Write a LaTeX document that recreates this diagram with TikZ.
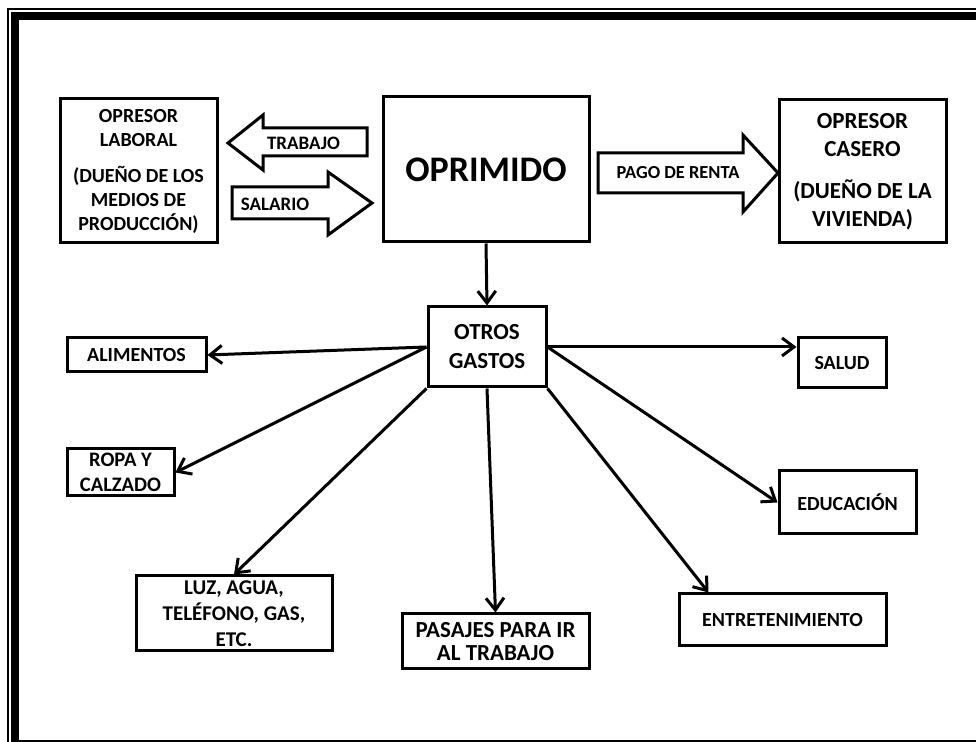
\documentclass[tikz,border=0pt]{standalone}
\usepackage{fontspec}
\setmainfont{Carlito}
\usetikzlibrary{arrows.meta}
\tikzset{
	block/.style    = {draw, line width=1.5pt, rectangle, align=center, inner sep=0pt,
		font=\bfseries\fontsize{10}{12}\selectfont},
	bigarrow/.style = {draw, line width=1.5pt, line join=miter},
	tag/.style      = {inner sep=0pt, font=\bfseries\fontsize{9.5}{11}\selectfont}
}

\begin{document}
\begin{tikzpicture}[x=0.5pt, y=-0.5pt, line width=1.5pt, >={Straight Barb[length=6pt,width=9pt]}]
	\useasboundingbox (0,0) rectangle (976,742);
	% frame
	\draw[line width=1pt] (8,742) -- (8,9) -- (976,9);
	\draw[line width=4pt] (15,742) -- (15,16) -- (976,16);
	\draw[line width=1pt] (11,741) -- (976,741);

	\draw
	node at (138.5,171) [block, minimum width=78.5pt, minimum height=72pt] (lab)
		{OPRESOR\\LABORAL\\[6pt](DUEÑO DE LOS\\MEDIOS DE\\PRODUCCIÓN)}
	node at (486,169.5) [block, minimum width=103pt, minimum height=72.5pt,
		font=\bfseries\fontsize{18}{20}\selectfont] (opr) {OPRIMIDO}
	node at (862.5,171.5) [block, minimum width=83.5pt, minimum height=71.5pt,
		font=\bfseries\fontsize{11.5}{14}\selectfont] (cas)
		{OPRESOR\\CASERO\\[7pt](DUEÑO DE LA\\VIVIENDA)}
	node at (487,347) [block, minimum width=59pt, minimum height=40pt,
		font=\bfseries\fontsize{11.5}{14.5}\selectfont] (otros) {OTROS\\GASTOS}
	node at (136.5,355) [block, minimum width=69.5pt, minimum height=17pt] (alim) {ALIMENTOS}
	node at (120.5,472.5) [block, minimum width=53.5pt, minimum height=23.5pt,
		font=\bfseries\fontsize{10.3}{12.5}\selectfont] (ropa) {ROPA Y\\CALZADO}
	node at (234,613.5) [block, minimum width=98pt, minimum height=37.5pt,
		font=\bfseries\fontsize{10.5}{13}\selectfont] (luz) {LUZ, AGUA,\\TELÉFONO, GAS,\\ETC.}
	node at (495.5,641.5) [block, minimum width=93.5pt, minimum height=27.5pt,
		font=\bfseries\fontsize{11.5}{11.5}\selectfont] (pas) {PASAJES PARA IR\\AL TRABAJO}
	node at (782.5,620) [block, minimum width=103.5pt, minimum height=26pt] (ent) {ENTRETENIMIENTO}
	node at (847.5,502.5) [block, minimum width=68.5pt, minimum height=31.5pt] (edu) {EDUCACIÓN}
	node at (842,363) [block, minimum width=44pt, minimum height=25pt] (salud) {SALUD};

	% wide arrows
	\draw[bigarrow] (228,143) -- (263,115) -- (263,128) -- (367,128) -- (367,156)
		-- (263,156) -- (263,170) -- cycle;
	\draw[bigarrow] (232,187) -- (328,187) -- (328,172) -- (372,203) -- (328,235)
		-- (328,219) -- (232,219) -- cycle;
	\draw[bigarrow] (598,153) -- (743,153) -- (743,135) -- (778,173) -- (743,212)
		-- (743,193) -- (598,193) -- cycle;
	\node[tag] (trab) at (303.5,143) {TRABAJO};
	\node[tag] (sal) at (275,204) {SALARIO};
	\node[tag, font=\bfseries\fontsize{9.2}{11}\selectfont] (renta) at (678,173) {PAGO DE RENTA};

	\draw[->](opr.south)--(otros.north);
	\draw[->](otros.west)--(alim.east);
	\draw[->](otros.west)--(ropa.east);
	\draw[->](otros.south west)--(luz.north);
	\draw[->](otros.south)--(pas.north);
	\draw[->](otros.south east)--([xshift=15.5pt]ent.north west);
	\draw[->](otros.east)--(edu.west);
	\draw[->](otros.east)--(otros.east -| salud.west);
\end{tikzpicture}
\end{document}
